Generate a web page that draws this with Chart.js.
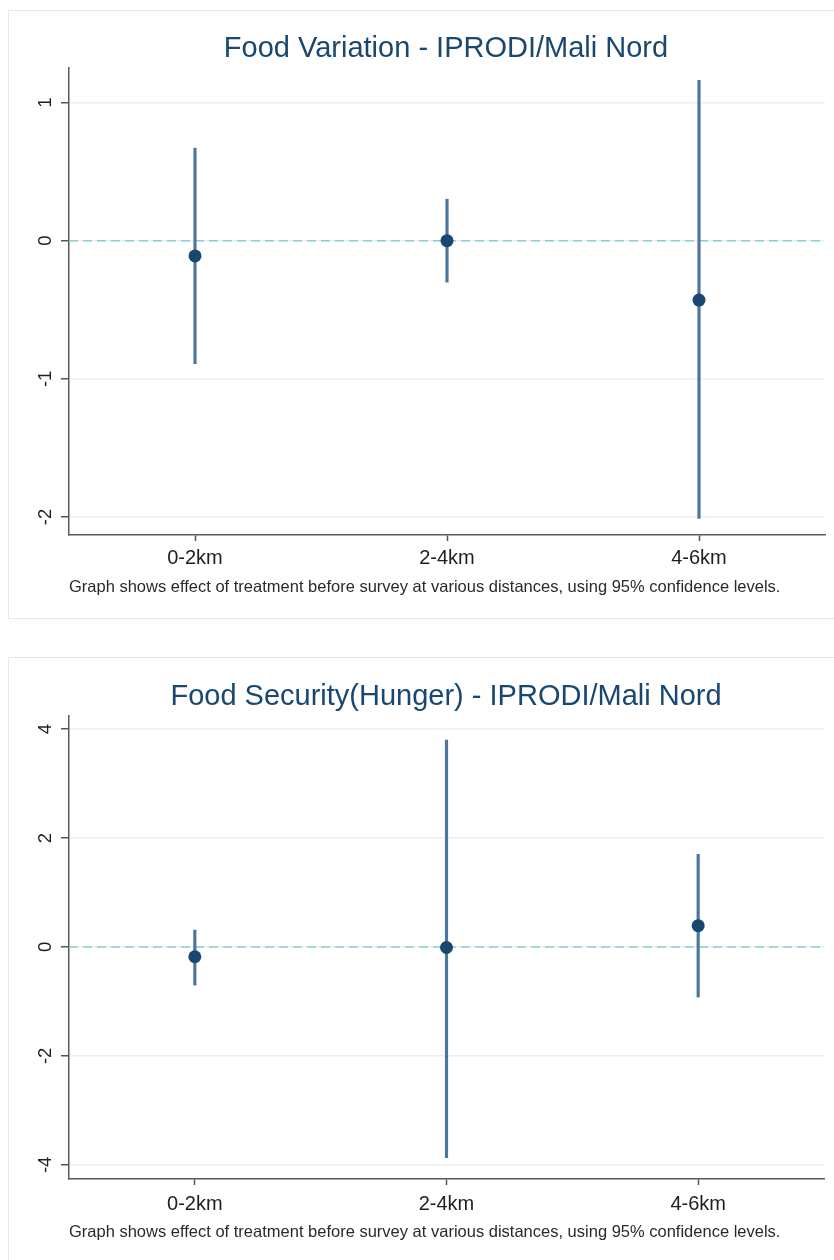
<!DOCTYPE html>
<html>
<head>
<meta charset="utf-8">
<script src="https://cdn.jsdelivr.net/npm/chart.js@4.4.1/dist/chart.umd.min.js"></script>
<style>
  html, body { margin: 0; padding: 0; background: #fff; width: 834px; height: 1260px; overflow: hidden; position: relative; }
  .frame { position: absolute; left: 8px; width: 900px; box-sizing: border-box; border: 1.5px solid #e2e8eb; background: #fff; }
  .holder { position: absolute; left: 8px; }
  canvas { display: block; }
</style>
</head>
<body>
<div class="frame" style="top:10px;height:609px;"></div>
<div class="frame" style="top:657px;height:640px;"></div>
<div class="holder" style="top:10px;"><canvas id="variation" width="876" height="608"></canvas></div>
<div class="holder" style="top:657px;"><canvas id="hunger" width="876" height="603"></canvas></div>
<script>
// Distance bands
const categories = ['0-2km', '2-4km', '4-6km'];

// Food variation: point estimates and 95% confidence bounds
const variationEstimate = [-0.11, 0.00, -0.43];
const variationLower    = [-0.89, -0.30, -2.01];
const variationUpper    = [0.67, 0.30, 1.16];
const variationTicks    = [-2, -1, 0, 1];

// Food security (hunger): point estimates and 95% confidence bounds
const hungerEstimate = [-0.18, -0.01, 0.39];
const hungerLower    = [-0.70, -3.87, -0.92];
const hungerUpper    = [0.31, 3.80, 1.70];
const hungerTicks    = [-4, -2, 0, 2, 4];

const noteText = 'Graph shows effect of treatment before survey at various distances, using 95% confidence levels.';

Chart.defaults.font.family = "'Liberation Sans', Arial, Helvetica, sans-serif";
Chart.defaults.color = '#1e1e1e';

// dashed reference line at zero, under the markers
const zeroLine = {
  id: 'zeroLine',
  beforeDatasetsDraw(chart) {
    const { ctx, chartArea: a, scales: { y } } = chart;
    const py = y.getPixelForValue(0);
    ctx.save();
    ctx.strokeStyle = '#86d2d2';
    ctx.lineWidth = 1.5;
    ctx.setLineDash([9, 5]);
    ctx.beginPath();
    ctx.moveTo(a.left, py);
    ctx.lineTo(a.right, py);
    ctx.stroke();
    ctx.restore();
  }
};

function coefPlot(id, p) {
  return new Chart(document.getElementById(id), {
    type: 'bar',
    data: {
      labels: categories,
      datasets: [
        {
          type: 'line',
          data: p.est,
          showLine: false,
          pointRadius: 6.5,
          pointHoverRadius: 6.5,
          pointBackgroundColor: '#1a476f',
          pointBorderWidth: 0,
          order: 0
        },
        {
          type: 'bar',
          data: p.lo.map((l, i) => [l, p.hi[i]]),
          backgroundColor: '#4d759d',
          borderWidth: 0,
          barThickness: 2.5,
          order: 1
        }
      ]
    },
    options: {
      responsive: false,
      animation: false,
      layout: { padding: { top: 0, left: 0, right: 0, bottom: p.padBottom } },
      plugins: {
        legend: { display: false },
        tooltip: { enabled: false },
        title: {
          display: true,
          text: p.title,
          color: '#1a476f',
          font: { size: 29, weight: 'normal', lineHeight: 1.2 },
          padding: { top: p.titleTop, bottom: p.titleBottom }
        }
      },
      scales: {
        x: {
          type: 'category',
          offset: true,
          grid: { offset: false, drawOnChartArea: false, tickLength: 6, tickColor: '#555', tickWidth: 1.5 },
          border: { color: '#5a5a5a', width: 1.5 },
          ticks: { padding: p.xPad, maxRotation: 0, color: '#1e1e1e', font: { size: 20, lineHeight: 1.2 } },
          title: {
            display: true,
            text: noteText,
            align: 'start',
            color: '#2a2a2a',
            font: { size: 16.5, lineHeight: 1.2 },
            padding: { top: 0, bottom: 2.5 }
          },
          afterFit(s) { s.height = p.xHeight; }
        },
        y: {
          type: 'linear',
          position: 'left',
          min: p.min,
          max: p.max,
          afterBuildTicks(s) { s.ticks = p.ticks.map(v => ({ value: v })); },
          afterFit(s) { s.width = 61; },
          ticks: {
            minRotation: 90,
            maxRotation: 90,
            crossAlign: 'center',
            padding: 7,
            color: '#1e1e1e',
            font: { size: 18.5 }
          },
          grid: { color: '#e9f0f2', lineWidth: 1.5, tickColor: '#555', tickWidth: 1.5, tickLength: 8 },
          border: { color: '#5a5a5a', width: 1.5 }
        },
        // empty margin on the right so the title sits centred over the plot region
        yMargin: {
          type: 'linear',
          position: 'right',
          min: p.min,
          max: p.max,
          ticks: { display: false },
          grid: { display: false, drawTicks: false },
          border: { display: false },
          afterFit(s) { s.width = p.rightMargin; }
        }
      }
    },
    plugins: [zeroLine]
  });
}

coefPlot('variation', {
  title: 'Food Variation - IPRODI/Mali Nord',
  est: variationEstimate, lo: variationLower, hi: variationUpper,
  min: -2.13, max: 1.25, ticks: variationTicks,
  titleTop: 21.6, titleBottom: 1.6,
  xPad: 5, xHeight: 64.4, padBottom: 18.6, rightMargin: 59
});

coefPlot('hunger', {
  title: 'Food Security(Hunger) - IPRODI/Mali Nord',
  est: hungerEstimate, lo: hungerLower, hi: hungerUpper,
  min: -4.26, max: 4.24, ticks: hungerTicks,
  titleTop: 22.6, titleBottom: 1.6,
  xPad: 7, xHeight: 65.4, padBottom: 15.6, rightMargin: 60
});
</script>
</body>
</html>
